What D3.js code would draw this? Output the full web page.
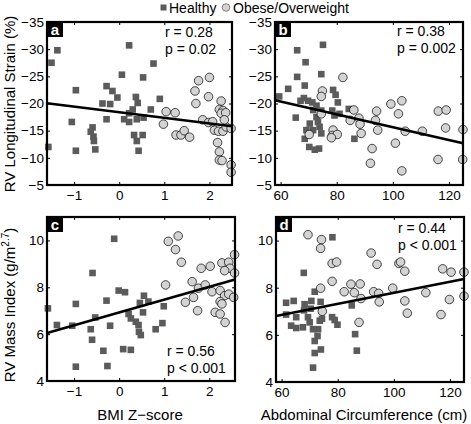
<!DOCTYPE html>
<html><head><meta charset="utf-8">
<script src="https://cdn.jsdelivr.net/npm/d3@7"></script>
<style>
html,body{margin:0;padding:0;background:#fff;}
svg{display:block;font-family:"Liberation Sans",Arial,Helvetica,sans-serif;}
</style></head>
<body>
<svg id="chart" width="471" height="424"></svg>
<script>
// ---------- DATA ----------
const legendLabels = ["Healthy", "Obese/Overweight"];
const xTitles = ["BMI Z\u2212score", "Abdominal Circumference (cm)"];
const yTitles = ["RV Longitudinal Strain (%)", "RV Mass Index (g/m", "2.7", ")"];
const bmiTicks = [-1, 0, 1, 2];
const circTicks = [60, 80, 100, 120];
const strainTicks = [-35, -30, -25, -20, -15, -10, -5];
const massTicks = [4, 6, 8, 10];

// Panel a: BMI Z-score vs strain
const aHealthy = [[0.22,-30.7],[-1.37,-29.8],[-1.50,-27.5],[0.76,-27.35],[0.06,-25.3],[0.53,-24.8],[-0.96,-22.45],[-0.28,-23.2],[-0.15,-22.3],[-0.04,-21.1],[0.37,-21.2],[0.41,-20.1],[0.90,-20.85],[-0.37,-20.0],[-0.2,-19.9],[0.30,-18.9],[0.22,-18.2],[0.70,-18.9],[-0.28,-17.1],[0.11,-17.1],[0.22,-16.6],[0.39,-17.1],[0.54,-17.4],[-1.05,-16.6],[-0.59,-15.6],[-0.63,-14.8],[-0.57,-13.9],[-0.56,-13.1],[0.33,-14.2],[0.52,-14.2],[0.39,-13.1],[-0.96,-11.3],[-0.53,-11.55],[0.43,-11.3],[-1.57,-12.0]];
const aObese = [[1.76,-24.2],[2.0,-24.8],[1.68,-22.3],[1.98,-21.25],[1.7,-20.0],[2.26,-20.45],[2.22,-18.9],[2.3,-18.7],[2.26,-18.2],[2.36,-18.3],[1.04,-18.5],[1.24,-18.3],[0.98,-16.2],[1.85,-17.0],[1.98,-16.5],[2.11,-15.1],[2.2,-14.9],[2.3,-14.9],[2.37,-15.7],[2.48,-15.4],[1.26,-14.2],[1.37,-14.2],[1.44,-15.0],[1.56,-13.8],[2.18,-12.8],[2.22,-11.1],[2.22,-9.6],[2.28,-9.5],[2.48,-8.7],[2.48,-7.35],[2.07,-16.65],[2.33,-17.0]];
const aFit = [[-1.6,-20.05],[2.5,-15.8]];
const aStats = ["r = 0.28", "p = 0.02"];

// Panel b: abdominal circumference vs strain
const bHealthy = [[75.1,-30.8],[65.9,-29.8],[68.9,-27.6],[65.9,-24.9],[74.5,-25.4],[62.7,-22.7],[68.6,-23.3],[59.5,-21.3],[65.4,-17.4],[68.3,-21.0],[69.8,-20.5],[71.3,-20.2],[72.8,-19.6],[78.7,-22.5],[79.6,-21.6],[80.4,-20.2],[74.5,-18.7],[72.8,-17.5],[73.3,-16.6],[73.9,-15.7],[74.5,-14.5],[71.6,-18.8],[69.2,-15.1],[68.6,-13.5],[70.2,-12.0],[72.2,-11.5],[73.7,-11.7],[78.4,-18.7],[79.2,-17.8],[84.3,-19.0],[86.3,-13.5],[81.0,-18.1],[67.1,-20.5],[70.4,-16.3],[71.6,-15.1]];
const bObese = [[82.2,-24.8],[74.9,-22.3],[74.5,-21.3],[74.5,-18.1],[70.2,-14.3],[78.7,-15.1],[78.4,-14.1],[80.2,-14.3],[78.1,-13.7],[86.1,-18.8],[84.8,-16.9],[87.9,-17.3],[88.3,-16.2],[88.7,-14.5],[94.2,-18.6],[93.8,-16.9],[94.6,-15.1],[92.6,-11.7],[92.0,-9.0],[99.3,-19.9],[103.2,-20.5],[102.0,-18.1],[100.9,-12.7],[104.4,-14.9],[103.2,-7.6],[110.5,-14.9],[116.2,-18.6],[119.0,-18.8],[118.8,-15.5],[116.1,-9.7],[125.0,-15.2],[124.9,-9.7]];
const bFit = [[58,-20.6],[125,-12.7]];
const bStats = ["r = 0.38", "p = 0.002"];

// Panel c: BMI Z-score vs RV mass index
const cHealthy = [[-0.11,10.07],[-0.59,8.61],[-0.01,7.86],[0.13,7.79],[-0.96,7.29],[-0.28,7.43],[-1.58,7.1],[-1.38,6.39],[-1.04,6.36],[-0.63,6.21],[-0.53,6.71],[-0.2,6.36],[-0.6,5.76],[0.55,7.64],[0.46,7.33],[0.65,7.39],[0.53,6.93],[0.26,6.67],[0.37,6.53],[0.43,6.39],[0.44,6.1],[0.48,5.96],[0.96,6.47],[0.81,6.21],[0.99,7.19],[0.21,6.86],[-0.35,5.29],[0.09,5.36],[0.26,5.33],[-0.96,4.61],[-0.26,4.64]];
const cObese = [[1.09,9.96],[1.31,10.19],[1.25,9.61],[1.38,9.07],[1.03,8.1],[1.82,8.81],[2.02,8.9],[2.28,9.04],[2.43,9.07],[2.56,9.39],[2.46,8.81],[2.34,8.71],[2.56,8.61],[1.62,8.24],[1.76,7.96],[1.91,8.1],[2.06,7.81],[2.24,7.86],[2.34,7.64],[2.43,7.71],[2.54,7.57],[1.65,7.57],[1.47,7.36],[2.24,7.39],[2.28,7.29],[1.74,7.0],[2.13,6.93],[2.24,6.86],[2.35,6.5]];
const cFit = [[-1.6,6.05],[2.57,8.33]];
const cStats = ["r = 0.56", "p < 0.001"];

// Panel d: abdominal circumference vs RV mass index
const dHealthy = [[78.1,10.14],[67.9,8.63],[71.8,7.83],[61.6,7.36],[64.3,7.44],[68.2,7.3],[70.6,7.44],[73.9,7.4],[70.4,7.11],[68.0,7.04],[61.6,6.86],[65.2,6.75],[69.4,6.75],[74.2,7.04],[74.4,6.68],[78.0,6.75],[78.9,6.63],[79.9,6.43],[85.0,7.25],[63.4,6.39],[65.2,6.29],[67.6,6.32],[70.0,6.53],[71.2,6.24],[73.0,6.24],[72.8,5.95],[71.8,5.74],[86.2,6.03],[74.0,5.38],[71.8,5.23],[86.8,5.33],[71.2,4.61],[73.6,6.6]];
const dObese = [[69.4,10.25],[74.2,10.04],[73.9,9.67],[78.0,9.03],[79.6,9.09],[78.0,8.27],[73.9,7.98],[82.3,7.83],[84.7,8.15],[85.9,7.79],[88.0,8.16],[88.3,7.54],[74.5,7.0],[87.6,6.53],[91.9,9.47],[94.0,8.99],[92.8,7.83],[94.6,7.76],[94.8,7.4],[99.6,7.98],[101.8,9.03],[102.4,9.09],[103.9,8.7],[103.9,7.44],[104.8,6.92],[111.4,7.79],[117.4,8.8],[120.4,8.66],[119.8,7.5],[116.8,6.86],[125.0,8.66],[125.0,7.64]];
const dFit = [[58,6.8],[125,8.37]];
const dStats = ["r = 0.44", "p < 0.001"];

// ---------- DRAW ----------
const svg = d3.select("#chart");
const FONT = '"Liberation Sans",Arial,Helvetica,sans-serif';
const SQ = "#5b5b5b", CI = "#d3d3d3";

const panels = [
  {id:"a", xd:[-1.6,2.5], xr:[47,232], yd:[-35,-5], yr:[22,185], xt:bmiTicks, yt:strainTicks, h:aHealthy, o:aObese, fit:aFit, st:aStats, sx:165, sy:[37,54]},
  {id:"b", xd:[58,125], xr:[275,463], yd:[-35,-5], yr:[22,185], xt:circTicks, yt:strainTicks, h:bHealthy, o:bObese, fit:bFit, st:bStats, sx:397, sy:[36,53]},
  {id:"c", xd:[-1.6,2.57], xr:[47,235], yd:[11,4], yr:[217,381], xt:bmiTicks, yt:massTicks, h:cHealthy, o:cObese, fit:cFit, st:cStats, sx:167, sy:[356,373]},
  {id:"d", xd:[58,125], xr:[276,464], yd:[11,4], yr:[217,382], xt:circTicks, yt:massTicks, h:dHealthy, o:dObese, fit:dFit, st:dStats, sx:398, sy:[233,250]}
];

panels.forEach(p => {
  const x = d3.scaleLinear().domain(p.xd).range(p.xr);
  const y = d3.scaleLinear().domain(p.yd).range(p.yr);
  const g = svg.append("g");
  const x0 = p.xr[0], x1 = p.xr[1], y0 = p.yr[0], y1 = p.yr[1];

  // axes (inward ticks)
  const ax = g.append("g").attr("transform",`translate(0,${y1})`)
    .call(d3.axisBottom(x).tickValues(p.xt).tickSize(-3).tickPadding(5).tickFormat(d3.format("d")));
  const axT = g.append("g").attr("transform",`translate(0,${y0})`)
    .call(d3.axisTop(x).tickValues(p.xt).tickSize(-3).tickFormat(""));
  const ay = g.append("g").attr("transform",`translate(${x0},0)`)
    .call(d3.axisLeft(y).tickValues(p.yt).tickSize(-3).tickPadding(3).tickFormat(d3.format("d")));
  const ayR = g.append("g").attr("transform",`translate(${x1},0)`)
    .call(d3.axisRight(y).tickValues(p.yt).tickSize(-3).tickFormat(""));
  [ax,axT,ay,ayR].forEach(a => {
    a.select(".domain").remove();
    a.selectAll("line").attr("stroke","#000").attr("stroke-width",1);
    a.selectAll("text").attr("font-family",FONT).attr("font-size",13.5).attr("fill","#000");
  });
  ax.selectAll("text").attr("dy","0.71em");

  // points
  g.append("g").selectAll("rect").data(p.h).join("rect")
    .attr("x", d => x(d[0]) - 3.3).attr("y", d => y(d[1]) - 3.3)
    .attr("width", 6.6).attr("height", 6.6).attr("fill", SQ);
  g.append("g").selectAll("circle").data(p.o).join("circle")
    .attr("cx", d => x(d[0])).attr("cy", d => y(d[1])).attr("r", 4.3)
    .attr("fill", CI).attr("stroke", "#000").attr("stroke-width", 0.7);

  // fit line
  g.append("line")
    .attr("x1", x(p.fit[0][0])).attr("y1", y(p.fit[0][1]))
    .attr("x2", x(p.fit[1][0])).attr("y2", y(p.fit[1][1]))
    .attr("stroke","#000").attr("stroke-width",2.6);

  // box
  g.append("rect").attr("x",x0).attr("y",y0).attr("width",x1-x0).attr("height",y1-y0)
    .attr("fill","none").attr("stroke","#000").attr("stroke-width",2.2);

  // panel letter
  g.append("rect").attr("x",x0).attr("y",y0).attr("width",16).attr("height",15).attr("fill","#000");
  g.append("text").attr("x",x0+8).attr("y",y0+12.5).attr("text-anchor","middle")
    .attr("font-family",FONT).attr("font-weight","bold").attr("font-size",15).attr("fill","#fff").text(p.id);

  // stats
  p.st.forEach((s,i) => {
    g.append("text").attr("x",p.sx).attr("y",p.sy[i]).attr("font-family",FONT)
      .attr("font-size",14).attr("fill","#000").text(s);
  });
});

// axis titles
svg.append("text").attr("x",140).attr("y",420).attr("text-anchor","middle")
  .attr("font-family",FONT).attr("font-size",15).text(xTitles[0]);
svg.append("text").attr("x",364).attr("y",420).attr("text-anchor","middle")
  .attr("font-family",FONT).attr("font-size",15).text(xTitles[1]);
svg.append("text").attr("transform","translate(15,104) rotate(-90)").attr("text-anchor","middle")
  .attr("font-family",FONT).attr("font-size",15).text(yTitles[0]);
const yt2 = svg.append("text").attr("transform","translate(15,305) rotate(-90)").attr("text-anchor","middle")
  .attr("font-family",FONT).attr("font-size",15);
yt2.append("tspan").text(yTitles[1]);
yt2.append("tspan").attr("font-size",10).attr("dy",-6).text(yTitles[2]);
yt2.append("tspan").attr("dy",6).text(yTitles[3]);

// legend
const lg = svg.append("g");
lg.append("rect").attr("x",160.5).attr("y",4.5).attr("width",6).attr("height",6).attr("fill",SQ);
lg.append("text").attr("x",169).attr("y",12.5).attr("font-family",FONT).attr("font-size",14).text(legendLabels[0]);
lg.append("circle").attr("cx",226).attr("cy",7.5).attr("r",3.8).attr("fill",CI).attr("stroke","#555").attr("stroke-width",0.7);
lg.append("text").attr("x",233).attr("y",12.5).attr("font-family",FONT).attr("font-size",14).text(legendLabels[1]);
</script>
</body></html>
